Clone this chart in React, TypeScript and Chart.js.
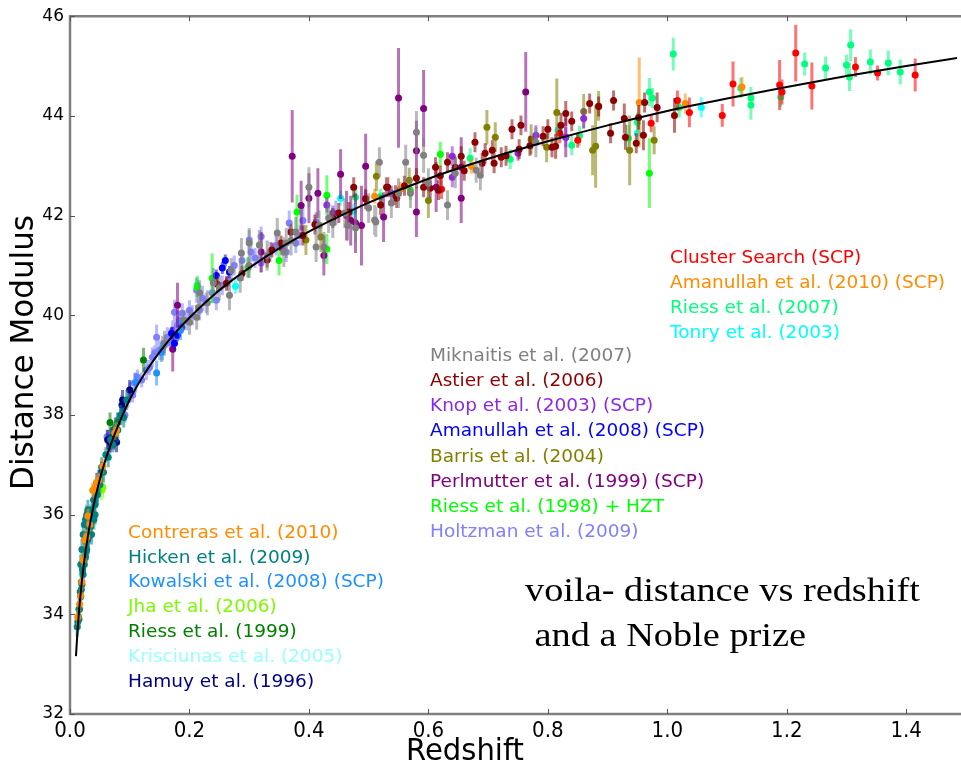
import React, { useEffect, useRef } from "react";
import { Chart, registerables } from "chart.js";
Chart.register(...registerables);

// ---------- model curve ----------
const modelZ = [0.01, 0.0125, 0.015, 0.0175, 0.02, 0.025, 0.03, 0.035, 0.04, 0.05, 0.06, 0.07, 0.08, 0.09, 0.1, 0.125, 0.15, 0.175, 0.2, 0.25, 0.3, 0.35, 0.4, 0.45, 0.5, 0.6, 0.7, 0.8, 0.9, 1.0, 1.1, 1.2, 1.3, 1.4, 1.5];
const modelMu = [33.16, 33.65, 34.05, 34.38, 34.68, 35.17, 35.57, 35.91, 36.21, 36.71, 37.12, 37.46, 37.77, 38.05, 38.31, 38.83, 39.26, 39.63, 39.95, 40.5, 40.95, 41.34, 41.68, 41.98, 42.26, 42.74, 43.14, 43.49, 43.81, 44.1, 44.35, 44.58, 44.8, 45.0, 45.19];

// ---------- axis ticks ----------
const xTicks = [0.0, 0.2, 0.4, 0.6, 0.8, 1.0, 1.2, 1.4];
const yTicks = [32, 34, 36, 38, 40, 42, 44, 46];

// ---------- Cluster Search (SCP) ----------
const clusterZ = [0.622, 0.82, 0.85, 0.973, 1.017, 1.037, 1.092, 1.11, 1.188, 1.192, 1.215, 1.242, 1.315, 1.352, 1.415];
const clusterMu = [42.53, 43.65, 43.51, 43.85, 44.31, 44.07, 44.01, 44.64, 44.62, 44.48, 45.26, 44.6, 44.98, 44.86, 44.82];
const clusterErr = [0.2, 0.2, 0.15, 0.18, 0.2, 0.3, 0.23, 0.45, 0.5, 0.25, 0.57, 0.47, 0.2, 0.15, 0.33];

// ---------- Amanullah et al. (2010) ----------
const aman10Z = [0.953, 1.03, 1.125, 0.672, 0.51, 0.553];
const aman10Mu = [44.27, 44.25, 44.58, 42.99, 42.39, 42.53];
const aman10Err = [0.9, 0.2, 0.2, 0.15, 0.15, 0.15];

// ---------- Riess et al. (2007) ----------
const riess07Z = [1.01, 0.97, 0.975, 0.935, 0.95, 1.02, 1.14, 1.14, 1.123, 1.19, 1.23, 1.265, 1.3, 1.307, 1.305, 1.34, 1.37, 1.39, 0.67, 0.737, 0.84, 0.853, 0.52, 0.478, 0.213];
const riess07Mu = [45.24, 44.48, 44.36, 43.55, 43.87, 44.17, 44.36, 44.22, 44.56, 44.38, 45.04, 44.96, 45.02, 45.42, 44.78, 45.08, 45.06, 44.88, 43.15, 43.13, 43.41, 43.6, 42.39, 42.37, 40.6];
const riess07Err = [0.33, 0.28, 0.2, 0.27, 0.2, 0.2, 0.22, 0.3, 0.2, 0.2, 0.23, 0.23, 0.2, 0.32, 0.28, 0.25, 0.25, 0.25, 0.2, 0.2, 0.2, 0.2, 0.15, 0.15, 0.2];

// ---------- Tonry et al. (2003) ----------
const tonryZ = [1.057, 0.95, 0.475, 0.817, 0.277, 0.453, 0.44];
const tonryMu = [44.17, 43.65, 42.09, 43.71, 40.58, 42.35, 42.0];
const tonryErr = [0.2, 0.2, 0.15, 0.15, 0.15, 0.15, 0.15];

// ---------- Miknaitis et al. (2007) ----------
const mikZ = [0.518, 0.51, 0.538, 0.562, 0.58, 0.592, 0.57, 0.632, 0.645, 0.68, 0.687, 0.78, 0.287, 0.267, 0.3, 0.317, 0.347, 0.358, 0.378, 0.4, 0.412, 0.433, 0.425, 0.478, 0.512, 0.217, 0.212, 0.158, 0.2, 0.3, 0.155, 0.417, 0.23, 0.25, 0.27, 0.33, 0.44, 0.46, 0.5, 0.55, 0.6, 0.215, 0.362, 0.19, 0.24, 0.285, 0.37, 0.465];
const mikMu = [43.07, 41.91, 42.25, 43.07, 43.67, 43.21, 42.45, 42.21, 42.85, 42.91, 42.81, 43.47, 41.25, 40.4, 41.45, 41.41, 41.65, 41.27, 41.67, 42.57, 41.37, 41.95, 41.37, 41.75, 41.87, 40.45, 39.96, 39.44, 39.86, 41.0, 39.34, 41.8, 40.25, 40.55, 40.9, 41.2, 41.85, 42.05, 42.15, 42.45, 42.65, 40.15, 41.45, 39.9, 40.65, 40.75, 41.5, 41.8];
const mikErr = [0.3, 0.3, 0.3, 0.35, 0.43, 0.35, 0.3, 0.3, 0.3, 0.25, 0.3, 0.3, 0.3, 0.3, 0.3, 0.3, 0.3, 0.3, 0.3, 0.4, 0.3, 0.3, 0.3, 0.3, 0.3, 0.25, 0.25, 0.25, 0.25, 0.25, 0.25, 0.3, 0.25, 0.25, 0.25, 0.3, 0.3, 0.3, 0.3, 0.3, 0.3, 0.25, 0.3, 0.2, 0.3, 0.3, 0.3, 0.3];

// ---------- Astier et al. (2006) ----------
const astierZ = [0.91, 0.905, 0.928, 0.93, 0.948, 0.952, 0.962, 0.96, 0.983, 1.012, 0.678, 0.695, 0.707, 0.71, 0.722, 0.74, 0.755, 0.752, 0.792, 0.8, 0.807, 0.813, 0.822, 0.83, 0.84, 0.87, 0.885, 0.475, 0.52, 0.53, 0.547, 0.58, 0.592, 0.603, 0.612, 0.617, 0.632, 0.645, 0.655, 0.247, 0.262, 0.288, 0.338, 0.353, 0.37, 0.45, 0.467, 0.495, 0.532, 0.545, 0.33, 0.39, 0.41, 0.44, 0.56, 0.62, 0.66, 0.69, 0.73, 0.77];
const astierMu = [44.31, 43.65, 43.95, 43.57, 43.45, 43.97, 44.27, 43.61, 44.17, 44.01, 43.47, 43.25, 43.31, 43.05, 43.17, 43.73, 43.81, 43.33, 43.59, 43.73, 43.37, 43.39, 43.81, 44.05, 43.89, 44.25, 44.19, 42.57, 42.21, 42.57, 42.35, 42.75, 42.57, 42.55, 42.97, 42.51, 43.07, 42.97, 43.19, 40.62, 40.64, 40.84, 41.31, 41.45, 41.67, 42.05, 42.07, 42.33, 42.57, 42.41, 41.11, 41.6, 41.82, 41.95, 42.6, 42.8, 42.9, 43.05, 43.2, 43.4];
const astierErr = [0.2, 0.2, 0.3, 0.25, 0.2, 0.25, 0.2, 0.3, 0.3, 0.35, 0.2, 0.2, 0.2, 0.2, 0.2, 0.2, 0.2, 0.2, 0.2, 0.2, 0.2, 0.25, 0.25, 0.25, 0.2, 0.2, 0.2, 0.2, 0.2, 0.2, 0.2, 0.2, 0.2, 0.2, 0.2, 0.2, 0.2, 0.2, 0.2, 0.15, 0.15, 0.15, 0.15, 0.15, 0.15, 0.2, 0.2, 0.2, 0.2, 0.2, 0.15, 0.2, 0.2, 0.2, 0.2, 0.2, 0.2, 0.2, 0.2, 0.2];

// ---------- Knop et al. (2003) ----------
const knopZ = [0.64, 0.64, 0.538, 0.495, 0.78, 0.75, 0.86, 0.83, 0.43, 0.44, 0.355];
const knopMu = [43.19, 42.77, 42.45, 42.35, 43.61, 43.25, 43.95, 43.57, 42.21, 42.05, 41.35];
const knopErr = [0.2, 0.2, 0.15, 0.15, 0.2, 0.15, 0.2, 0.2, 0.15, 0.15, 0.15];

// ---------- Amanullah et al. (2008) ----------
const aman08Z = [0.255, 0.267, 0.245, 0.187, 0.175, 0.17, 0.26, 0.18];
const aman08Mu = [40.95, 40.87, 40.8, 39.76, 39.44, 39.64, 41.1, 39.6];
const aman08Err = [0.12, 0.12, 0.12, 0.12, 0.12, 0.12, 0.12, 0.12];

// ---------- Barris et al. (2004) ----------
const barrisZ = [0.513, 0.568, 0.698, 0.712, 0.772, 0.798, 0.815, 0.86, 0.875, 0.88, 0.885, 0.937, 0.978, 0.395, 0.42, 0.6];
const barrisMu = [42.79, 42.71, 43.77, 43.57, 43.53, 43.37, 44.07, 44.09, 43.31, 43.39, 44.2, 43.31, 43.51, 41.51, 41.57, 42.3];
const barrisErr = [0.3, 0.25, 0.35, 0.3, 0.3, 0.3, 0.68, 0.35, 0.5, 0.83, 0.3, 0.7, 0.28, 0.3, 0.3, 0.35];

// ---------- Perlmutter et al. (1999) ----------
const perlZ = [0.55, 0.592, 0.763, 0.495, 0.655, 0.655, 0.58, 0.58, 0.488, 0.525, 0.613, 0.83, 0.372, 0.387, 0.4, 0.415, 0.453, 0.463, 0.478, 0.425, 0.18, 0.172, 0.32, 0.47];
const perlMu = [44.36, 44.15, 44.48, 42.99, 42.97, 42.35, 42.07, 43.3, 41.8, 41.97, 42.57, 43.57, 43.19, 42.2, 42.35, 42.45, 42.83, 42.0, 41.85, 41.2, 40.2, 39.32, 41.27, 41.9];
const perlErr = [1.0, 0.77, 0.8, 0.65, 0.6, 0.5, 0.5, 0.6, 0.8, 0.5, 0.5, 0.4, 0.93, 0.5, 0.5, 0.5, 0.5, 0.5, 0.6, 0.4, 0.45, 0.45, 0.4, 0.5];

// ---------- Riess et al. (1998) + HZT ----------
const riess98Z = [0.213, 0.238, 0.298, 0.38, 0.43, 0.43, 0.62, 0.57, 0.97, 0.35];
const riess98Mu = [40.56, 40.74, 40.97, 42.07, 42.41, 41.33, 43.23, 42.51, 42.85, 41.1];
const riess98Err = [0.2, 0.5, 0.2, 0.35, 0.4, 0.3, 0.25, 0.2, 0.7, 0.3];

// ---------- Holtzman et al. (2009) ----------
const holtZ = [0.062, 0.067, 0.072, 0.075, 0.08, 0.088, 0.092, 0.097, 0.1, 0.105, 0.108, 0.113, 0.12, 0.128, 0.133, 0.138, 0.142, 0.145, 0.15, 0.158, 0.163, 0.168, 0.172, 0.175, 0.18, 0.183, 0.188, 0.195, 0.2, 0.205, 0.212, 0.217, 0.222, 0.228, 0.238, 0.245, 0.255, 0.265, 0.275, 0.288, 0.298, 0.303, 0.31, 0.32, 0.335, 0.345, 0.362, 0.367, 0.378, 0.385, 0.39, 0.412, 0.445, 0.3, 0.32];
const holtMu = [37.56, 37.36, 37.7, 37.55, 37.9, 38.1, 38.0, 38.3, 38.5, 38.4, 38.64, 38.76, 38.7, 38.9, 38.95, 39.16, 39.25, 39.56, 39.3, 39.4, 39.56, 39.45, 39.7, 40.06, 39.8, 39.9, 40.04, 39.9, 40.1, 40.0, 40.5, 40.1, 40.34, 40.25, 40.45, 40.3, 40.6, 40.7, 41.0, 41.1, 40.95, 41.27, 41.15, 41.05, 41.27, 41.4, 41.27, 41.85, 41.45, 41.6, 41.9, 41.87, 42.05, 41.51, 41.58];
const holtErr = [0.15, 0.15, 0.15, 0.15, 0.15, 0.15, 0.15, 0.15, 0.15, 0.15, 0.2, 0.15, 0.15, 0.2, 0.15, 0.2, 0.15, 0.25, 0.2, 0.15, 0.2, 0.15, 0.2, 0.25, 0.2, 0.2, 0.2, 0.2, 0.2, 0.2, 0.25, 0.2, 0.25, 0.2, 0.2, 0.2, 0.2, 0.2, 0.2, 0.2, 0.2, 0.2, 0.2, 0.2, 0.2, 0.2, 0.2, 0.25, 0.2, 0.2, 0.25, 0.2, 0.25, 0.2, 0.2];

// ---------- Contreras et al. (2010) ----------
const contZ = [0.013, 0.016, 0.018, 0.02, 0.022, 0.025, 0.028, 0.03, 0.033, 0.038, 0.042, 0.045, 0.048, 0.055, 0.075, 0.078];
const contMu = [33.94, 34.2, 34.37, 34.65, 35.09, 35.49, 35.55, 35.97, 35.8, 36.49, 36.55, 36.65, 36.69, 36.97, 37.64, 37.7];
const contErr = [0.15, 0.15, 0.15, 0.15, 0.15, 0.15, 0.15, 0.15, 0.15, 0.15, 0.15, 0.15, 0.15, 0.15, 0.15, 0.15];

// ---------- Hicken et al. (2009) ----------
const hickZ = [0.012, 0.013, 0.014, 0.015, 0.016, 0.017, 0.018, 0.019, 0.02, 0.021, 0.022, 0.023, 0.024, 0.025, 0.026, 0.027, 0.028, 0.029, 0.03, 0.031, 0.032, 0.033, 0.034, 0.035, 0.036, 0.037, 0.038, 0.04, 0.042, 0.044, 0.046, 0.048, 0.05, 0.053, 0.056, 0.06, 0.064, 0.068, 0.072, 0.076, 0.08, 0.085, 0.09, 0.095, 0.015, 0.019, 0.022, 0.027, 0.031, 0.034, 0.022, 0.024, 0.026, 0.028, 0.025, 0.03, 0.036, 0.04, 0.042, 0.02, 0.018];
const hickMu = [33.75, 33.85, 33.95, 34.1, 34.1, 34.45, 34.35, 34.65, 34.6, 34.9, 34.8, 35.1, 35.0, 35.3, 35.15, 35.45, 35.3, 35.6, 35.5, 35.75, 35.6, 35.9, 35.75, 36.0, 35.85, 36.1, 36.0, 36.3, 36.2, 36.5, 36.4, 36.7, 36.6, 36.95, 36.85, 37.2, 37.15, 37.5, 37.4, 37.75, 37.7, 38.0, 37.95, 38.3, 33.9, 34.5, 35.0, 35.25, 35.55, 36.0, 35.6, 35.8, 35.9, 36.0, 35.5, 36.1, 35.6, 35.9, 36.0, 35.3, 35.0];
const hickErr = [0.2, 0.2, 0.15, 0.2, 0.2, 0.15, 0.2, 0.2, 0.15, 0.2, 0.2, 0.15, 0.2, 0.2, 0.15, 0.2, 0.2, 0.15, 0.2, 0.2, 0.15, 0.2, 0.2, 0.15, 0.2, 0.2, 0.15, 0.2, 0.2, 0.15, 0.2, 0.2, 0.15, 0.2, 0.2, 0.15, 0.2, 0.2, 0.15, 0.2, 0.25, 0.2, 0.2, 0.2, 0.2, 0.2, 0.2, 0.2, 0.2, 0.2, 0.25, 0.2, 0.2, 0.2, 0.2, 0.2, 0.2, 0.2, 0.2, 0.2, 0.2];

// ---------- Kowalski et al. (2008) ----------
const kowZ = [0.042, 0.11, 0.145, 0.153, 0.185];
const kowMu = [36.3, 38.65, 38.84, 39.26, 39.7];
const kowErr = [0.15, 0.2, 0.25, 0.2, 0.2];

// ---------- Jha et al. (2006) ----------
const jhaZ = [0.022, 0.025, 0.035, 0.05, 0.053, 0.055];
const jhaMu = [35.05, 35.1, 35.8, 36.6, 36.49, 36.55];
const jhaErr = [0.2, 0.2, 0.2, 0.2, 0.2, 0.2];

// ---------- Riess et al. (1999) ----------
const riess99Z = [0.067, 0.08, 0.123];
const riess99Mu = [37.85, 37.85, 39.1];
const riess99Err = [0.2, 0.2, 0.25];

// ---------- Krisciunas et al. (2005) ----------
const krisZ = [0.02, 0.03, 0.038];
const krisMu = [34.8, 35.6, 36.0];
const krisErr = [0.15, 0.15, 0.15];

// ---------- Hamuy et al. (1996) ----------
const hamuyZ = [0.03, 0.04, 0.045, 0.053, 0.063, 0.067, 0.07, 0.075, 0.078, 0.087, 0.088, 0.1];
const hamuyMu = [35.55, 36.3, 36.64, 36.86, 37.5, 37.45, 37.55, 37.5, 37.45, 38.2, 38.3, 38.5];
const hamuyErr = [0.2, 0.2, 0.2, 0.2, 0.2, 0.2, 0.2, 0.2, 0.2, 0.2, 0.2, 0.2];

// ---------- annotation texts ----------
const voilaLines = ["voila- distance vs redshift", " and a Noble prize"];
const xTitle = "Redshift";
const yTitle = "Distance Modulus";

type Survey = { name: string; color: string; z: number[]; mu: number[]; err: number[] };

const lowGroup: Survey[] = [
  { name: "Contreras et al. (2010)", color: "#ff8c00", z: contZ, mu: contMu, err: contErr },
  { name: "Hicken et al. (2009)", color: "#008080", z: hickZ, mu: hickMu, err: hickErr },
  { name: "Kowalski et al. (2008) (SCP)", color: "#1e90ff", z: kowZ, mu: kowMu, err: kowErr },
  { name: "Jha et al. (2006)", color: "#7cfc00", z: jhaZ, mu: jhaMu, err: jhaErr },
  { name: "Riess et al. (1999)", color: "#008000", z: riess99Z, mu: riess99Mu, err: riess99Err },
  { name: "Krisciunas et al. (2005)", color: "#99ffff", z: krisZ, mu: krisMu, err: krisErr },
  { name: "Hamuy et al. (1996)", color: "#000080", z: hamuyZ, mu: hamuyMu, err: hamuyErr },
];
const midGroup: Survey[] = [
  { name: "Miknaitis et al. (2007)", color: "#808080", z: mikZ, mu: mikMu, err: mikErr },
  { name: "Astier et al. (2006)", color: "#8b0000", z: astierZ, mu: astierMu, err: astierErr },
  { name: "Knop et al. (2003) (SCP)", color: "#8a2be2", z: knopZ, mu: knopMu, err: knopErr },
  { name: "Amanullah et al. (2008) (SCP)", color: "#0000ff", z: aman08Z, mu: aman08Mu, err: aman08Err },
  { name: "Barris et al. (2004)", color: "#808000", z: barrisZ, mu: barrisMu, err: barrisErr },
  { name: "Perlmutter et al. (1999) (SCP)", color: "#800080", z: perlZ, mu: perlMu, err: perlErr },
  { name: "Riess et al. (1998) + HZT", color: "#00ff00", z: riess98Z, mu: riess98Mu, err: riess98Err },
  { name: "Holtzman et al. (2009)", color: "#8080ff", z: holtZ, mu: holtMu, err: holtErr },
];
const highGroup: Survey[] = [
  { name: "Cluster Search (SCP)", color: "#ff0000", z: clusterZ, mu: clusterMu, err: clusterErr },
  { name: "Amanullah et al. (2010) (SCP)", color: "#ff8c00", z: aman10Z, mu: aman10Mu, err: aman10Err },
  { name: "Riess et al. (2007)", color: "#00ff7f", z: riess07Z, mu: riess07Mu, err: riess07Err },
  { name: "Tonry et al. (2003)", color: "#00ffff", z: tonryZ, mu: tonryMu, err: tonryErr },
];

const SANS = '"DejaVu Sans", "Noto Sans", sans-serif';
const NARROW = '"Liberation Sans Narrow", "DejaVu Sans Condensed", "DejaVu Sans", sans-serif';
const SERIF = '"Liberation Serif", "Times New Roman", "DejaVu Serif", serif';

function withAlpha(hex: string, a: number) {
  const n = parseInt(hex.slice(1), 16);
  return `rgba(${(n >> 16) & 255},${(n >> 8) & 255},${n & 255},${a})`;
}

function errData(s: Survey) {
  const out: any[] = [];
  s.z.forEach((z, i) => {
    out.push({ x: z, y: s.mu[i] - s.err[i] }, { x: z, y: s.mu[i] + s.err[i] }, { x: z, y: null });
  });
  return out;
}

// draw text stretched horizontally to a target width
function fillFit(ctx: CanvasRenderingContext2D, text: string, x: number, y: number, width: number) {
  const w = ctx.measureText(text).width;
  ctx.save();
  ctx.translate(x, y);
  ctx.scale(width / w, 1);
  ctx.fillText(text, 0, 0);
  ctx.restore();
}

const framePlugin = {
  id: "frame",
  afterDraw(chart: any) {
    const { ctx, chartArea } = chart;
    const { left, right, top, bottom } = chartArea;
    const xs = chart.scales.x;
    const ys = chart.scales.y;
    ctx.save();
    // spines
    ctx.strokeStyle = "#808080";
    ctx.lineWidth = 2.5;
    ctx.beginPath();
    ctx.moveTo(right + 10, top);
    ctx.lineTo(left, top);
    ctx.lineTo(left, bottom);
    ctx.lineTo(right + 10, bottom);
    ctx.stroke();
    // inward ticks
    ctx.strokeStyle = "#555";
    ctx.lineWidth = 1;
    ctx.beginPath();
    xs.ticks.forEach((t: any) => {
      const px = Math.round(xs.getPixelForValue(t.value)) + 0.5;
      ctx.moveTo(px, bottom);
      ctx.lineTo(px, bottom - 5);
      ctx.moveTo(px, top);
      ctx.lineTo(px, top + 5);
    });
    ys.ticks.forEach((t: any) => {
      const py = Math.round(ys.getPixelForValue(t.value)) + 0.5;
      ctx.moveTo(left, py);
      ctx.lineTo(left + 5, py);
    });
    ctx.stroke();

    // axis titles
    ctx.fillStyle = "#000";
    ctx.textAlign = "left";
    ctx.textBaseline = "middle";
    ctx.font = `30px ${SANS}`;
    fillFit(ctx, xTitle, 406, 752, 118);
    ctx.save();
    ctx.translate(25, 490);
    ctx.rotate(-Math.PI / 2);
    ctx.font = `32px ${SANS}`;
    fillFit(ctx, yTitle, 0, 0, 275);
    ctx.restore();

    // legend-like colored labels
    ctx.font = `18.5px ${SANS}`;
    highGroup.forEach((s, i) => {
      ctx.fillStyle = s.color;
      ctx.fillText(s.name, 670, 258 + i * 25);
    });
    midGroup.forEach((s, i) => {
      ctx.fillStyle = s.color;
      ctx.fillText(s.name, 430, 356 + i * 25.2);
    });
    lowGroup.forEach((s, i) => {
      ctx.fillStyle = s.color;
      ctx.fillText(s.name, 128, 533 + i * 24.8);
    });

    // serif annotation
    ctx.fillStyle = "#000";
    ctx.font = `33px ${SERIF}`;
    fillFit(ctx, voilaLines[0], 525, 592, 395);
    const w0 = ctx.measureText(voilaLines[0]).width;
    const w1 = ctx.measureText(voilaLines[1]).width;
    fillFit(ctx, voilaLines[1], 525, 637, (w1 * 395) / w0);
    ctx.restore();
  },
};

export default function App() {
  const ref = useRef<HTMLCanvasElement>(null);
  useEffect(() => {
    const canvas = ref.current;
    if (!canvas) return;
    const all = [...lowGroup, ...midGroup, ...highGroup];
    const datasets: any[] = [
      {
        type: "line",
        data: modelZ.map((z, i) => ({ x: z, y: modelMu[i] })),
        borderColor: "#000",
        borderWidth: 2,
        pointRadius: 0,
        fill: false,
        cubicInterpolationMode: "monotone",
        order: 0,
      },
    ];
    all.forEach((s, k) => {
      datasets.push({
        type: "line",
        data: errData(s),
        borderColor: withAlpha(s.color, 0.55),
        borderWidth: 3,
        borderCapStyle: "butt",
        pointRadius: 0,
        spanGaps: false,
        fill: false,
        order: 10 + 2 * k + 1,
      });
      datasets.push({
        type: "scatter",
        data: s.z.map((z, i) => ({ x: z, y: s.mu[i] })),
        backgroundColor: s.color,
        borderWidth: 0,
        pointRadius: 3.5,
        order: 10 + 2 * k,
      });
    });

    const chart = new Chart(canvas, {
      type: "scatter",
      data: { datasets },
      options: {
        responsive: false,
        animation: false,
        devicePixelRatio: 1,
        layout: { padding: { top: 16, left: 0, right: 0, bottom: 0 } },
        plugins: { legend: { display: false }, tooltip: { enabled: false } },
        scales: {
          x: {
            type: "linear",
            min: 0,
            max: 1.485,
            grid: { display: false, drawTicks: false },
            border: { display: false },
            afterBuildTicks: (s: any) => {
              s.ticks = xTicks.map((v) => ({ value: v }));
            },
            afterFit: (s: any) => {
              s.height = 54;
            },
            ticks: {
              autoSkip: false,
              maxRotation: 0,
              padding: 6,
              color: "#000",
              font: { family: NARROW, size: 22, lineHeight: 1.0 },
              callback: (v: any) => Number(v).toFixed(1),
            },
          },
          y: {
            type: "linear",
            min: 32,
            max: 46,
            grid: { display: false, drawTicks: false },
            border: { display: false },
            afterBuildTicks: (s: any) => {
              s.ticks = yTicks.map((v) => ({ value: v }));
            },
            afterFit: (s: any) => {
              s.width = 70;
            },
            ticks: {
              padding: 6,
              color: "#000",
              font: { family: SANS, size: 17 },
              callback: (v: any) => String(v),
            },
          },
        },
      } as any,
      plugins: [framePlugin],
    } as any);
    return () => chart.destroy();
  }, []);

  return (
    <div style={{ position: "absolute", left: 0, top: 0, width: 961, height: 768, overflow: "hidden", background: "#fff" }}>
      <canvas ref={ref} width={961} height={768} style={{ width: 961, height: 768, display: "block" }} />
    </div>
  );
}
